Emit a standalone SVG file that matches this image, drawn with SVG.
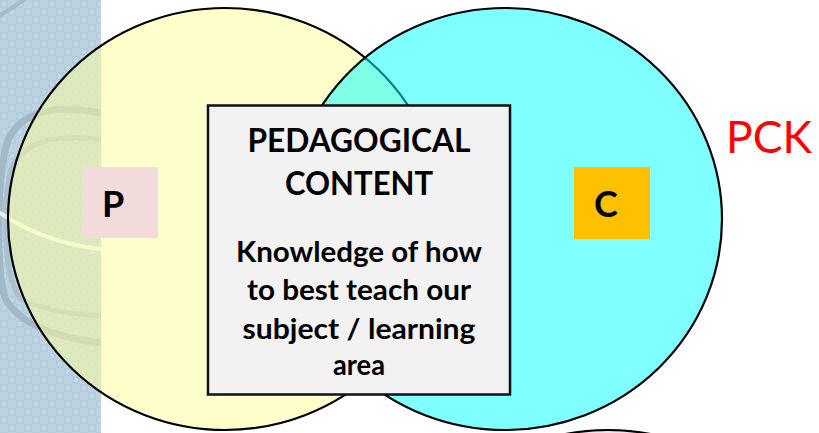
<svg xmlns="http://www.w3.org/2000/svg" width="819" height="433" viewBox="0 0 819 433">
  <defs>
    <pattern id="chk" x="0" y="0" width="16" height="16" patternUnits="userSpaceOnUse">
      <rect width="16" height="16" fill="#BDD3E2"/>
      <rect x="0" y="0" width="8" height="8" fill="#B5CCDC"/>
      <rect x="8" y="8" width="8" height="8" fill="#B5CCDC"/>
      <rect x="2" y="2" width="4" height="4" fill="#C3D8E6"/>
      <rect x="10" y="10" width="4" height="4" fill="#C3D8E6"/>
    </pattern>
    <clipPath id="stripClip"><rect x="0" y="0" width="101" height="433"/></clipPath>
  </defs>
  <style>
    .ring { fill: none; stroke-linecap: round; }
    .venn { stroke: #000; stroke-width: 2.2; }
    .bold { font-family: Lato, "Liberation Sans", sans-serif; font-weight: bold; fill: #000; }
    .title { font-size: 32px; text-anchor: middle; }
    .body { font-size: 28px; text-anchor: middle; }
    .letter { font-size: 36px; }
  </style>
  <rect width="819" height="433" fill="#FFFFFF"/>

  <g id="strip" clip-path="url(#stripClip)">
    <rect x="0" y="0" width="101" height="433" fill="url(#chk)"/>
    <path class="ring" d="M101,113 C70,107 25,104 8,140 C-4,175 -4,280 6,300 C22,326 60,338 101,343" stroke="#9CB3C3" stroke-width="7" opacity="0.8"/>
    <path class="ring" d="M101,140 C60,134 22,138 10,172 C2,210 4,278 20,298 C40,310 70,314 101,316" stroke="#A6BCCB" stroke-width="5" opacity="0.8"/>
    <path class="ring" d="M0,213 Q45,243 101,249" stroke="#FFFFFF" stroke-width="4" opacity="0.75"/>
    <path class="ring" d="M0,15 Q12,8 24,0" stroke="#A6BCCB" stroke-width="4"/>
  </g>

  <g id="circle-p">
    <ellipse class="venn" cx="225" cy="219" rx="217" ry="211" fill="#FFFF99" fill-opacity="0.5"/>
  </g>
  <g id="circle-c">
    <ellipse class="venn" cx="505" cy="219" rx="217" ry="211" fill="#00FFFF" fill-opacity="0.5"/>
  </g>
  <g id="circle-bottom">
    <ellipse class="venn" cx="608" cy="641" rx="217" ry="211" fill="#F6E0F4"/>
  </g>

  <g id="connectors"></g>

  <g id="node-p">
    <rect x="82" y="167" width="76" height="71" fill="#F2DCDB"/>
    <text class="bold letter" x="102" y="217">P</text>
  </g>
  <g id="node-c">
    <rect x="574" y="167" width="76" height="72" fill="#FFC000"/>
    <text class="bold letter" x="594" y="217">C</text>
  </g>

  <g id="node-pck-box">
    <rect x="208" y="105.5" width="302" height="289" fill="#F2F2F2" stroke="#111" stroke-width="2.5"/>
    <text class="bold title" x="359" y="152" textLength="223" lengthAdjust="spacingAndGlyphs">PEDAGOGICAL</text>
    <text class="bold title" x="359" y="195" textLength="148" lengthAdjust="spacingAndGlyphs">CONTENT</text>
    <text class="bold body" x="359" y="262" textLength="246" lengthAdjust="spacingAndGlyphs">Knowledge of how</text>
    <text class="bold body" x="359" y="300" textLength="224" lengthAdjust="spacingAndGlyphs">to best teach our</text>
    <text class="bold body" x="359" y="339" textLength="233" lengthAdjust="spacingAndGlyphs">subject / learning</text>
    <text class="bold body" x="359" y="375" textLength="52" lengthAdjust="spacingAndGlyphs">area</text>
  </g>

  <g id="label-pck">
    <text x="726" y="153" font-family="Lato, 'Liberation Sans', sans-serif" font-size="44" fill="#FF0000" textLength="86" lengthAdjust="spacingAndGlyphs">PCK</text>
  </g>
</svg>
